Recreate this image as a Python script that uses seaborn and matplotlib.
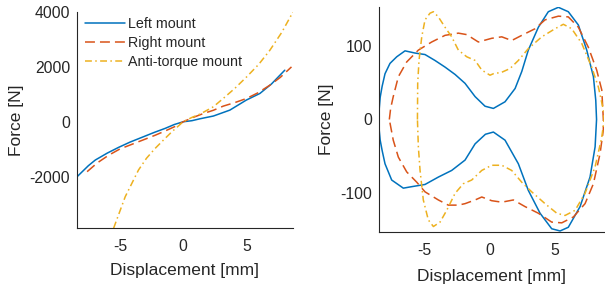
import numpy as np
import pandas as pd
import matplotlib
matplotlib.use('Agg')
import matplotlib.pyplot as plt
import seaborn as sns

# %%
# Static stiffness curves (left panel)
left_x = [-8.39, -7.5, -6.95, -6.0, -5.1, -4.2, -3.26, -2.3, -1.42, -0.7, 0.0, 0.7, 1.34, 2.4, 3.7, 5.0, 6.08, 7.0, 8.05]
left_F = [-2000, -1600, -1393, -1140, -931, -740, -567, -390, -240, -100, 0, 40, 110, 210, 425, 790, 1032, 1380, 1880]

right_x = [-7.6, -6.8, -5.9, -5.0, -4.05, -3.1, -2.21, -1.4, -0.63, 0.0, 0.8, 1.6, 2.4, 3.18, 4.1, 5.03, 5.9, 6.87, 7.7, 8.58]
right_F = [-1818, -1500, -1220, -990, -820, -650, -490, -330, -170, 0, 160, 300, 420, 571, 700, 851, 1050, 1334, 1620, 2000]

anti_x = [-5.5, -4.58, -3.53, -2.9, -2.21, -1.5, -0.89, 0.0, 0.7, 1.34, 2.39, 3.18, 4.1, 5.03, 6.0, 6.87, 7.8, 8.7]
anti_F = [-3876, -2727, -1756, -1330, -968, -640, -364, 0, 160, 280, 545, 851, 1220, 1636, 2100, 2607, 3250, 4000]

# %%
# Hysteresis loops (right panel), traced upper branch then lower branch
loop_left_x = [-8.44, -8.42, -8.35, -8.2, -7.98, -7.6, -7.08, -6.45, -5.68, -4.92, -4.16, -3.39, -2.62, -1.86, -1.09, -0.33,
               0.31, 1.2, 1.97, 2.48, 2.98, 3.75, 4.51, 5.28, 6.04, 6.81, 7.45, 7.96, 8.14, 8.2,
               8.09, 7.7, 6.94, 6.04, 5.41, 4.77, 3.88, 2.98, 2.22, 1.2, 0.31, -0.3, -1.09, -1.86, -2.88, -3.9,
               -4.92, -5.94, -6.58, -7.47, -7.98, -8.2, -8.35, -8.42, -8.44]
loop_left_F = [-5, 15, 30, 45, 62, 76, 85, 93, 90, 88, 80, 71, 61, 49, 31, 18,
               15, 24, 42, 65, 94, 125, 146, 152, 146, 128, 94, 58, 26, 0,
               -37, -78, -118, -146, -151, -148, -127, -96, -60, -28, -17, -20, -33, -55, -69, -78,
               -88, -91, -93, -82, -60, -42, -28, -15, -5]

loop_right_x = [-7.65, -7.55, -7.35, -6.96, -6.32, -5.43, -4.41, -3.39, -2.37, -1.73, -0.84, 0.18, 0.95, 1.71, 2.48,
                3.5, 4.26, 5.28, 6.04, 6.81, 7.57, 8.21, 8.6, 8.72,
                8.72, 8.47, 7.96, 7.32, 6.43, 5.54, 4.77, 3.75, 2.73, 1.84, 0.95, 0.18, -0.58, -1.09, -1.86,
                -2.37, -3.14, -3.9, -4.92, -5.55, -6.32, -6.96, -7.35, -7.65]
loop_right_F = [0, 15, 31, 58, 78, 94, 105, 114, 117, 115, 105, 110, 112, 107, 114,
                123, 135, 140, 139, 125, 98, 67, 40, 0,
                -14, -46, -87, -114, -132, -140, -139, -127, -118, -109, -112, -110, -105, -109, -114,
                -116, -116, -109, -98, -85, -71, -51, -28, 0]

loop_anti_x = [-5.5, -5.48, -5.38, -5.17, -4.92, -4.54, -4.28, -3.9, -3.39, -2.88, -2.37, -1.73, -1.09, -0.58, 0.05,
               0.31, 0.95, 1.58, 2.22, 2.98, 4.01, 5.03, 5.66, 6.3, 7.07, 7.83, 8.34, 8.72, 8.78,
               8.6, 8.09, 7.32, 6.56, 5.79, 5.16, 4.26, 3.24, 2.48, 1.71, 0.95, 0.18, -0.58, -1.35, -1.99,
               -2.62, -3.26, -3.77, -4.28, -4.67, -5.05, -5.3, -5.43, -5.5]
loop_anti_F = [0, 49, 80, 112, 135, 144, 146, 139, 125, 112, 94, 85, 80, 67, 60,
               62, 64, 69, 80, 96, 112, 123, 129, 123, 103, 71, 44, 13, 0,
               -24, -64, -100, -123, -130, -127, -114, -98, -85, -69, -62, -62, -69, -82, -87,
               -100, -123, -139, -145, -136, -109, -69, -37, 0]

labels = ['Left mount', 'Right mount', 'Anti-torque mount']
colors = ['#0072BD', '#D95319', '#EDB120']
styles = ['-', (0, (6.5, 3.3)), (0, (4.5, 2.2, 1, 2.2))]

# %%
sns.set_style('white')
plt.rcParams['font.family'] = ['Liberation Sans', 'DejaVu Sans']
plt.rcParams['axes.unicode_minus'] = False
plt.rcParams['text.color'] = '#262626'
plt.rcParams['axes.labelcolor'] = '#262626'
plt.rcParams['xtick.color'] = '#262626'
plt.rcParams['ytick.color'] = '#262626'

fig = plt.figure(figsize=(6.05, 2.91), dpi=100)
ax1 = fig.add_axes([77 / 605, 1 - 228 / 291, 216 / 605, 216 / 291])
ax2 = fig.add_axes([379 / 605, 1 - 231.7 / 291, 225 / 605, 224.4 / 291])

static = [(left_x, left_F), (right_x, right_F), (anti_x, anti_F)]
for (x, y), lab, c, ls in zip(static, labels, colors, styles):
    df = pd.DataFrame({'x': x, 'F': y})
    sns.lineplot(data=df, x='x', y='F', ax=ax1, color=c, linestyle=ls, lw=1.1,
                 sort=False, estimator=None, label=lab)

loops = [(loop_left_x, loop_left_F), (loop_right_x, loop_right_F), (loop_anti_x, loop_anti_F)]
for (x, y), c, ls in zip(loops, colors, styles):
    df = pd.DataFrame({'x': x, 'F': y})
    sns.lineplot(data=df, x='x', y='F', ax=ax2, color=c, linestyle=ls, lw=1.1,
                 sort=False, estimator=None)

ax1.set_xlim(-8.4, 8.7)
ax1.set_ylim(-3870, 4000)
ax1.set_xticks([-5, 0, 5])
ax1.set_yticks([-2000, 0, 2000, 4000])
ax2.set_xlim(-8.44, 8.77)
ax2.set_ylim(-152, 152)
ax2.set_xticks([-5, 0, 5])
ax2.set_yticks([-100, 0, 100])

for ax in (ax1, ax2):
    sns.despine(ax=ax)
    for s in ('left', 'bottom'):
        ax.spines[s].set_color('#262626')
        ax.spines[s].set_linewidth(0.8)
    ax.tick_params(direction='in', length=3, width=0.8, labelsize=11.3)
    ax.tick_params(axis='x', pad=8)
    ax.tick_params(axis='y', pad=5)
    ax.set_xlabel('Displacement [mm]', fontsize=12.5)
    ax.set_ylabel('Force [N]', fontsize=12.5)

ax1.xaxis.set_label_coords(0.5, -0.162)
ax1.yaxis.set_label_coords(-0.245, 0.5)
ax2.xaxis.set_label_coords(0.5, -0.166)
ax2.yaxis.set_label_coords(-0.2, 0.5)

ax1.legend(loc='upper left', bbox_to_anchor=(0.037, 0.975), frameon=False, fontsize=10.3,
           handlelength=2.8, handletextpad=0.2, labelspacing=0.35, borderpad=0, borderaxespad=0)

fig.savefig('out.png', dpi=100)
